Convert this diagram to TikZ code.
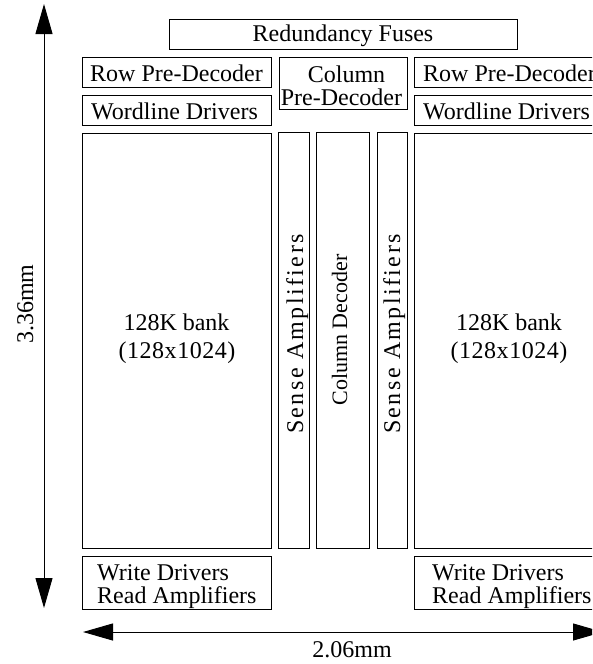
\documentclass[tikz,border=0pt]{standalone}
\usepackage{fontspec}
\setmainfont{Liberation Serif}
\usetikzlibrary{arrows.meta}
\begin{document}
\begin{tikzpicture}[x=1pt,y=-1pt,
  blk/.style={draw, line width=1.1pt, inner sep=0pt, anchor=north west},
  lbl/.style={inner sep=0pt, font=\fontsize{24}{24}\selectfont},
  wide/.style={font=\fontsize{24}{24}\selectfont\addfontfeatures{LetterSpace=10}},
  nums/.style={font=\fontsize{24}{24}\selectfont\addfontfeatures{LetterSpace=2.2}},
  small/.style={font=\fontsize{22}{22}\selectfont},
  dim/.style={line width=1pt, {Triangle[length=30pt,width=17pt]}-{Triangle[length=30pt,width=17pt]}}]
\useasboundingbox (0,0) rectangle (592,664);
\clip (0,0) rectangle (592,664);
% boxes
\node[blk, minimum width=348pt, minimum height=30pt] (fuse) at (169,19) {};
\node[blk, minimum width=189pt, minimum height=30pt] (rpdL) at (82,57) {};
\node[blk, minimum width=189pt, minimum height=30pt] (wdL) at (82,95) {};
\node[blk, minimum width=128pt, minimum height=52pt] (cpd) at (279,57) {};
\node[blk, minimum width=189pt, minimum height=30pt] (rpdR) at (414,57) {};
\node[blk, minimum width=189pt, minimum height=30pt] (wdR) at (414,95) {};
\node[blk, minimum width=189pt, minimum height=415pt] (bankL) at (82,133) {};
\node[blk, minimum width=31pt, minimum height=416pt] (saL) at (278,132) {};
\node[blk, minimum width=53pt, minimum height=416pt] (cdec) at (316,132) {};
\node[blk, minimum width=30pt, minimum height=416pt] (saR) at (377,132) {};
\node[blk, minimum width=189pt, minimum height=415pt] (bankR) at (414,133) {};
\node[blk, minimum width=189pt, minimum height=53pt] (wrL) at (82,556) {};
\node[blk, minimum width=189pt, minimum height=53pt] (wrR) at (414,556) {};
% texts
\node[lbl, anchor=base] (tfuse) at (343,41) {Redundancy Fuses};
\node[lbl, anchor=base west] (trpdL) at (90,81) {Row Pre-Decoder};
\node[lbl, anchor=base west] (twdL) at (91,119) {Wordline Drivers};
\node[lbl, anchor=base west] (trpdR) at (423,81) {Row Pre-Decoder};
\node[lbl, anchor=base west] (twdR) at (423,119) {Wordline Drivers};
\node[lbl, anchor=base] (tcol) at (346.5,82) {Column};
\node[lbl, anchor=base] (tpre) at (341.5,105) {Pre-Decoder};
\node[lbl, anchor=base] (tbL1) at (176.5,330) {128K bank};
\node[lbl, nums, anchor=base] (tbL2) at (177,358) {(128x1024)};
\node[lbl, anchor=base] (tbR1) at (509,330) {128K bank};
\node[lbl, nums, anchor=base] (tbR2) at (509,358) {(128x1024)};
\node[lbl, anchor=base west] (twL1) at (97,580) {Write Drivers};
\node[lbl, anchor=base west] (twL2) at (97,603) {Read Amplifiers};
\node[lbl, anchor=base west] (twR1) at (432,580) {Write Drivers};
\node[lbl, anchor=base west] (twR2) at (432,603) {Read Amplifiers};
\node[lbl, wide, rotate=90, anchor=base] (tsaL) at (303,334) {Sense Amplifiers};
\node[lbl, small, rotate=90, anchor=base] (tcd) at (347,330) {Column Decoder};
\node[lbl, wide, rotate=90, anchor=base] (tsaR) at (400,334) {Sense Amplifiers};
\node[lbl, rotate=90, anchor=base] (tv) at (33,304) {3.36mm};
\node[lbl, anchor=base] (th) at (352,657) {2.06mm};
% dimension arrows
\coordinate (vt) at (44,4);
\coordinate (vb) at (44,608);
\draw[dim] (vt) -- (vb);
\coordinate (hl) at (83,632);
\coordinate (hr) at (603,632);
\draw[dim] (hl) -- (hr);
\end{tikzpicture}
\end{document}
